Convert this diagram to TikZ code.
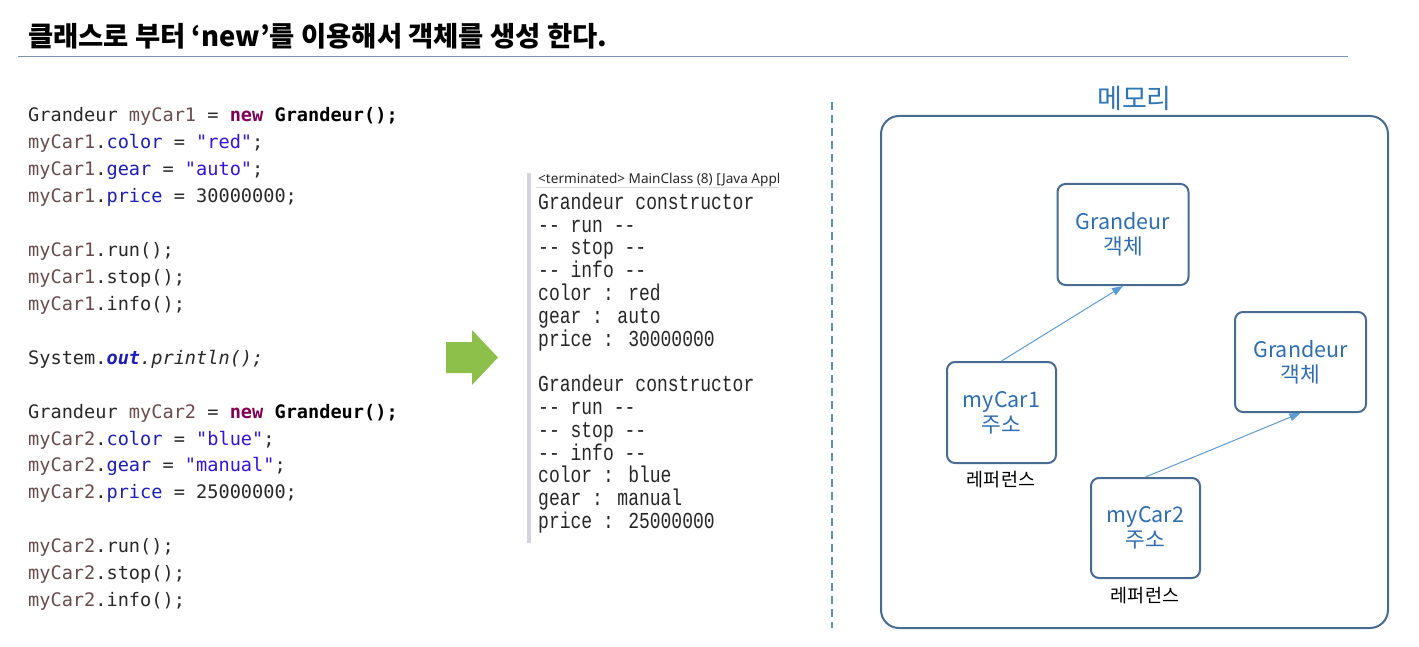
\documentclass[tikz,border=0pt]{standalone}
\usepackage{fontspec,xcolor}
\usetikzlibrary{arrows.meta}
\setmainfont{Noto Sans CJK KR}
\setmonofont{DejaVu Sans Mono}
\newfontfamily\confont{Liberation Mono}[FakeStretch=0.79]
\newfontfamily\uifont{Noto Sans}

\definecolor{codeplain}{RGB}{40,40,40}
\definecolor{codevar}{RGB}{106,75,75}
\definecolor{codefld}{RGB}{30,30,180}
\definecolor{codestr}{RGB}{50,20,220}
\definecolor{codekw}{RGB}{127,0,85}
\definecolor{titlerule}{RGB}{120,150,175}
\definecolor{memline}{RGB}{72,108,145}
\definecolor{boxtext}{RGB}{46,110,175}
\definecolor{memtitle}{RGB}{46,117,182}
\definecolor{refline}{RGB}{91,155,213}
\definecolor{sepblue}{RGB}{91,144,199}
\definecolor{arrowgreen}{RGB}{141,192,74}
\definecolor{conbar}{RGB}{212,212,224}

\newcommand{\jvar}[1]{\textcolor{codevar}{#1}}
\newcommand{\jfld}[1]{\textcolor{codefld}{#1}}
\newcommand{\jstr}[1]{\textcolor{codestr}{#1}}
\newcommand{\jkw}[1]{\textcolor{codekw}{\textbf{#1}}}

\begin{document}
\begin{tikzpicture}[x=1pt,y=-1pt,
    codeline/.style={anchor=base west,inner sep=0pt,text=codeplain,
      font=\ttfamily\fontsize{18.6}{22}\selectfont},
    conline/.style={anchor=base west,inner sep=0pt,text=black!85,
      font=\confont\fontsize{22.8}{23}\selectfont},
    membox/.style={draw=memline,line width=2pt,rounded corners=8pt,
      text=boxtext,align=center,font=\fontsize{21.5}{25}\selectfont},
    reflabel/.style={inner sep=0pt,font=\fontsize{18.5}{20}\selectfont},
    refarrow/.style={draw=refline,line width=1pt,
      -{Triangle[length=11pt,width=8pt]}}]
  \useasboundingbox (0,0) rectangle (1419,647);

  % title
  \node[anchor=west,inner sep=0pt,font=\bfseries\fontsize{27.4}{30}\selectfont]
    (T) at (28,36) {클래스로 부터 ‘new’를 이용해서 객체를 생성 한다.};
  \coordinate (TL) at (18,56.5);
  \coordinate (TR) at (1348,56.5);
  \draw[titlerule,line width=1pt] (TL) -- (TR);

  % code
  \node[codeline] (L1) at (28,121.7) {Grandeur \jvar{myCar1} = \jkw{new} \textbf{\textcolor{black}{Grandeur();}}};
  \node[codeline] (L2) at (28,148.6) {\jvar{myCar1}.\jfld{color} = \jstr{"red"};};
  \node[codeline] (L3) at (28,175.6) {\jvar{myCar1}.\jfld{gear} = \jstr{"auto"};};
  \node[codeline] (L4) at (28,202.5) {\jvar{myCar1}.\jfld{price} = 30000000;};
  \node[codeline] (L6) at (28,256.4) {\jvar{myCar1}.run();};
  \node[codeline] (L7) at (28,283.3) {\jvar{myCar1}.stop();};
  \node[codeline] (L8) at (28,310.3) {\jvar{myCar1}.info();};
  \node[codeline] (L10) at (28,364.2) {System.\textbf{\textit{\jfld{out}}}\textit{.println();}};
  \node[codeline] (L12) at (28,418.0) {Grandeur \jvar{myCar2} = \jkw{new} \textbf{\textcolor{black}{Grandeur();}}};
  \node[codeline] (L13) at (28,445.0) {\jvar{myCar2}.\jfld{color} = \jstr{"blue"};};
  \node[codeline] (L14) at (28,471.9) {\jvar{myCar2}.\jfld{gear} = \jstr{"manual"};};
  \node[codeline] (L15) at (28,498.9) {\jvar{myCar2}.\jfld{price} = 25000000;};
  \node[codeline] (L17) at (28,552.8) {\jvar{myCar2}.run();};
  \node[codeline] (L18) at (28,579.7) {\jvar{myCar2}.stop();};
  \node[codeline] (L19) at (28,606.7) {\jvar{myCar2}.info();};

  % green arrow
  \fill[arrowgreen] (446,342) -- (472,342) -- (472,330) -- (498,357.5)
    -- (472,385) -- (472,373) -- (446,373) -- cycle;

  % console
  \fill[conbar] (527,173) rectangle (531,543);
  \begin{scope}
    \clip (535,165) rectangle (778,190);
    \node[anchor=base west,inner sep=0pt,text=black!85,
      font=\uifont\fontsize{13.6}{15}\selectfont]
      (HDR) at (538,183.3) {<terminated> MainClass (8) [Java Application]};
  \end{scope}
  \coordinate (HL) at (536,187);
  \coordinate (HR) at (778,187);
  \draw[black!15,line width=0.8pt] (HL) -- (HR);
  \node[conline] (C1) at (538,209.3) {Grandeur constructor};
  \node[conline] (C2) at (538,232.1) {-- run --};
  \node[conline] (C3) at (538,254.9) {-- stop --};
  \node[conline] (C4) at (538,277.7) {-- info --};
  \node[conline] (C5) at (538,300.5) {color : red};
  \node[conline] (C6) at (538,323.3) {gear : auto};
  \node[conline] (C7) at (538,346.1) {price : 30000000};
  \node[conline] (C9) at (538,391.7) {Grandeur constructor};
  \node[conline] (C10) at (538,414.5) {-- run --};
  \node[conline] (C11) at (538,437.3) {-- stop --};
  \node[conline] (C12) at (538,460.1) {-- info --};
  \node[conline] (C13) at (538,482.9) {color : blue};
  \node[conline] (C14) at (538,505.7) {gear : manual};
  \node[conline] (C15) at (538,528.5) {price : 25000000};

  % separator
  \coordinate (S1) at (832,102);
  \coordinate (S2) at (832,628);
  \draw[sepblue,line width=2pt,dash pattern=on 8pt off 5pt] (S1) -- (S2);

  % memory
  \node[text=memtitle,inner sep=0pt,font=\fontsize{27}{30}\selectfont]
    (MT) at (1134.5,98) {메모리};
  \node[draw=memline,line width=2pt,rounded corners=18pt,
    minimum width=507pt,minimum height=512pt] (MEM) at (1134.5,372) {};
  \node[membox,minimum width=131pt,minimum height=101pt] (G1) at (1123,234.5) {Grandeur\\객체};
  \node[membox,minimum width=131pt,minimum height=100pt] (G2) at (1300.5,362) {Grandeur\\객체};
  \node[membox,minimum width=109pt,minimum height=101pt] (M1) at (1001.5,412.5) {myCar1\\주소};
  \node[membox,minimum width=109pt,minimum height=100pt] (M2) at (1145.5,528) {myCar2\\주소};
  \node[reflabel] (R1) at (1001,480) {레퍼런스};
  \node[reflabel] (R2) at (1145,596) {레퍼런스};
  \draw[refarrow] (M1.north) -- (G1.south);
  \draw[refarrow] (M2.north) -- (G2.south);
\end{tikzpicture}
\end{document}
